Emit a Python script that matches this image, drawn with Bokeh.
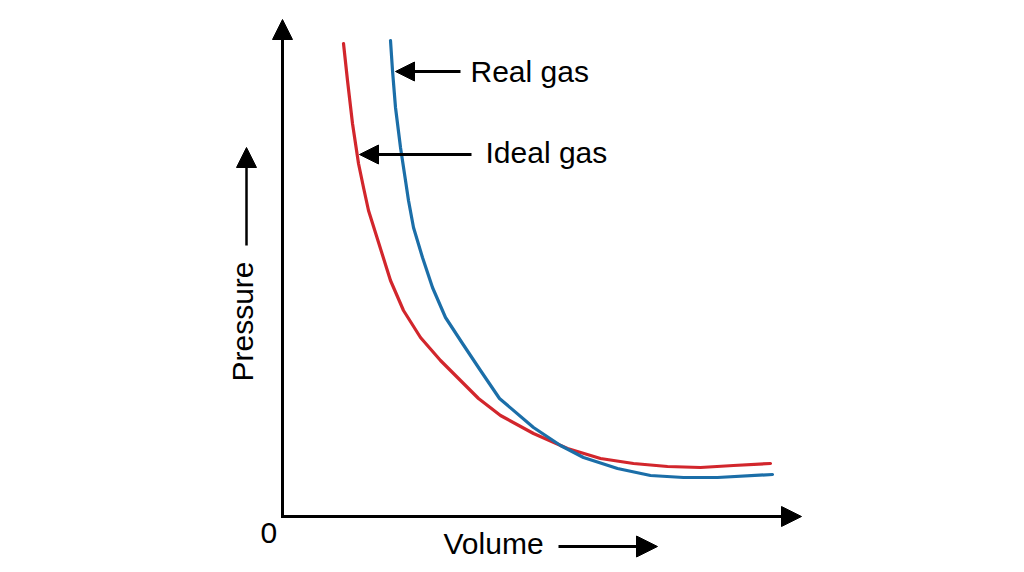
import math
from bokeh.plotting import figure
from bokeh.models import Range1d, Arrow, NormalHead, Label
from bokeh.embed import file_html
from bokeh.resources import INLINE

# ---- data (volume, pressure in arbitrary units) ----
ideal_volume = [1.22, 1.30, 1.40, 1.52, 1.62, 1.72, 1.94, 2.16, 2.42, 2.76, 3.16, 3.56, 3.92,
                4.36, 5.02, 5.70, 6.36, 7.02, 7.70, 8.36, 9.02, 9.76]
ideal_pressure = [9.46, 8.72, 7.86, 7.06, 6.58, 6.12, 5.42, 4.72, 4.12, 3.58, 3.12, 2.72, 2.36,
                  2.02, 1.66, 1.36, 1.16, 1.06, 1.00, 0.98, 1.02, 1.06]

real_volume = [2.16, 2.20, 2.26, 2.36, 2.46, 2.52, 2.62, 2.80, 3.00, 3.26, 3.60, 3.96, 4.34,
               5.02, 5.56, 6.02, 6.70, 7.36, 8.02, 8.70, 9.80]
real_pressure = [9.52, 8.92, 8.18, 7.38, 6.72, 6.32, 5.78, 5.18, 4.58, 3.98, 3.46, 2.92, 2.36,
                 1.78, 1.42, 1.18, 0.96, 0.82, 0.78, 0.78, 0.84]

labels = ["Real gas", "Ideal gas"]
x_label = "Volume"
y_label = "Pressure"
origin_label = "0"

# ---- layout helpers (screen pixel -> data units) ----
OX, OY, S = 282.0, 516.0, 50.0
def X(px):
    return (px - OX) / S
def Y(py):
    return (OY - py) / S

W, H = 1008, 564
p = figure(width=W, height=H, output_backend="svg", toolbar_location=None,
           x_range=Range1d(X(0), X(W)), y_range=Range1d(Y(H), Y(0)),
           min_border=0, outline_line_color=None)
p.xaxis.visible = False
p.yaxis.visible = False
p.grid.visible = False
p.background_fill_color = "white"
p.border_fill_color = "white"

FONT = "Liberation Sans"

def arrow(x0, y0, x1, y1, lw=3, size=20):
    p.add_layout(Arrow(x_start=X(x0), y_start=Y(y0), x_end=X(x1), y_end=Y(y1),
                       line_color="black", line_width=lw,
                       end=NormalHead(size=size, fill_color="black", line_color="black", line_width=1)))

# axes
arrow(282, 517.5, 282, 19)
arrow(280.5, 516, 801, 516)

# curves
p.line(ideal_volume, ideal_pressure, line_color="#d2262c", line_width=3.2, line_join="round", line_cap="round")
p.line(real_volume, real_pressure, line_color="#1b6ea8", line_width=3.2, line_join="round", line_cap="round")

# annotation arrows
arrow(460, 71, 395, 71, lw=3, size=19)
arrow(471, 154, 359, 154, lw=3, size=19)
arrow(246, 245, 246, 147, lw=2.5, size=20)
arrow(558, 546, 657, 546, lw=3, size=21)

def label(txt, px, py, angle=0.0):
    p.add_layout(Label(x=X(px), y=Y(py), text=txt, text_font=FONT, text_font_size="30px",
                       text_color="black", text_baseline="alphabetic", text_align="left",
                       angle=angle))

label(labels[0], 470, 71)
label(labels[1], 485, 152)
label(x_label, 443, 543)
label(origin_label, 260, 532)
label(y_label, 242, 381, angle=math.pi / 2)

open("out.html", "w").write(file_html(p, INLINE))
